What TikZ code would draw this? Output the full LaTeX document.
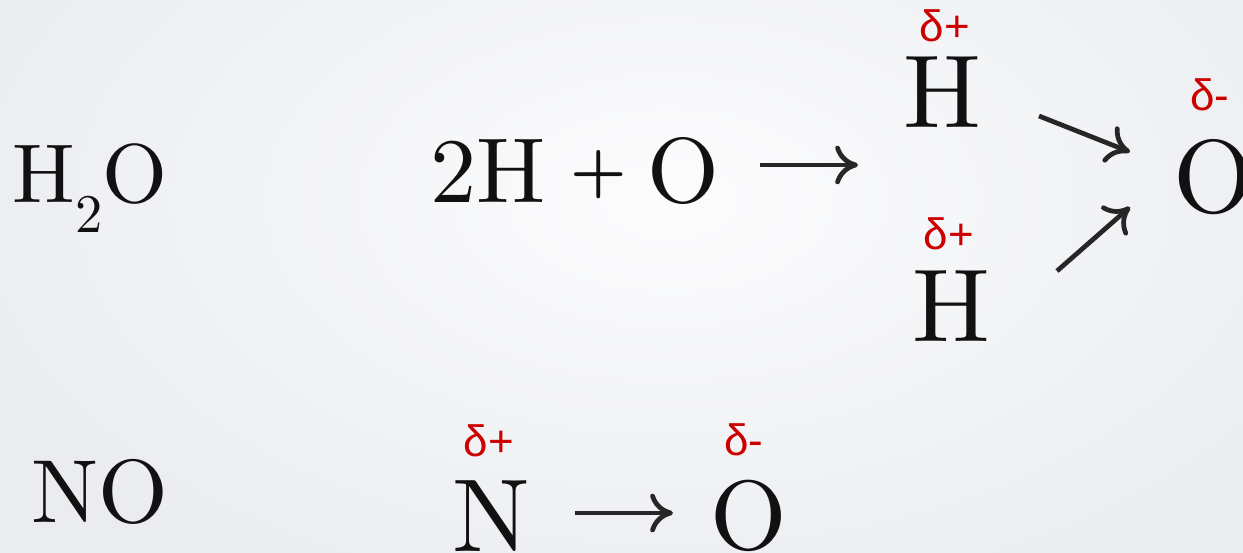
\documentclass[tikz,border=0pt]{standalone}
\usepackage{fontspec}
\setmainfont{lmroman10-regular}[Extension=.otf,BoldFont=lmroman10-bold]
\newfontfamily\chargefont{Liberation Sans}
\usetikzlibrary{arrows.meta}
\definecolor{bgedge}{RGB}{234,236,240}
\definecolor{bgmid}{RGB}{252,252,253}
\definecolor{chargered}{RGB}{204,0,0}
\definecolor{ink}{RGB}{17,17,17}
\definecolor{bondgray}{RGB}{38,38,38}

\begin{document}
\begin{tikzpicture}[x=0.02cm,y=-0.02cm,
  formula/.style={inner sep=0pt,anchor=base,text=ink,font=\fontsize{47.5}{57}\selectfont},
  eqn/.style={formula,font=\fontsize{52.5}{63}\selectfont},
  atom/.style={formula,font=\fontsize{59}{70}\selectfont},
  charge/.style={inner sep=0pt,anchor=base,text=chargered,font=\chargefont\fontsize{25}{30}\selectfont},
  bond/.style={bondgray,line width=2.7pt,-{To[length=13pt,width=22pt]}}]
\useasboundingbox (0,0) rectangle (1243,553);
\clip (0,0) rectangle (1243,553);
\fill[bgedge] (0,0) rectangle (1243,553);
\shade[inner color=bgmid,outer color=bgedge] (670,200) ellipse (760 and 440);

\node[formula] (water) at (90,203) {H\raisebox{-17pt}{\fontsize{31}{36}\selectfont 2}O};
\node[formula,font=\fontsize{51}{61}\selectfont] (nitro) at (100,522) {NO};

\node[eqn,anchor=base west] (react) at (430,203)
  {2H\hspace{13.9pt}\raisebox{7pt}{\fontsize{36}{40}\selectfont\bfseries +}\hspace{12.1pt}O};
\coordinate (r1) at (760,165); \coordinate (r2) at (858,165);
\draw[bond] (r1) -- (r2);

\node[atom] (Ha) at (942,128) {H};
\node[atom] (Hb) at (951,342) {H};
\node[atom] (Ow) at (1214,213) {O};
\node[charge] (qHa) at (945,42) {δ+};
\node[charge] (qHb) at (949,250) {δ+};
\node[charge] (qOw) at (1210,111) {δ-};
\coordinate (a1) at (1039,116); \coordinate (a2) at (1130,152);
\coordinate (b1) at (1057,271); \coordinate (b2) at (1130,207);
\draw[bond] (a1) -- (a2);
\draw[bond] (b1) -- (b2);

\node[atom] (N) at (491,551) {N};
\node[atom,font=\fontsize{56}{66}\selectfont] (On) at (749,549) {O};
\node[charge] (qN) at (489,457) {δ+};
\node[charge] (qOn) at (744,455) {δ-};
\coordinate (n1) at (575,513); \coordinate (n2) at (673,513);
\draw[bond] (n1) -- (n2);
\end{tikzpicture}
\end{document}
